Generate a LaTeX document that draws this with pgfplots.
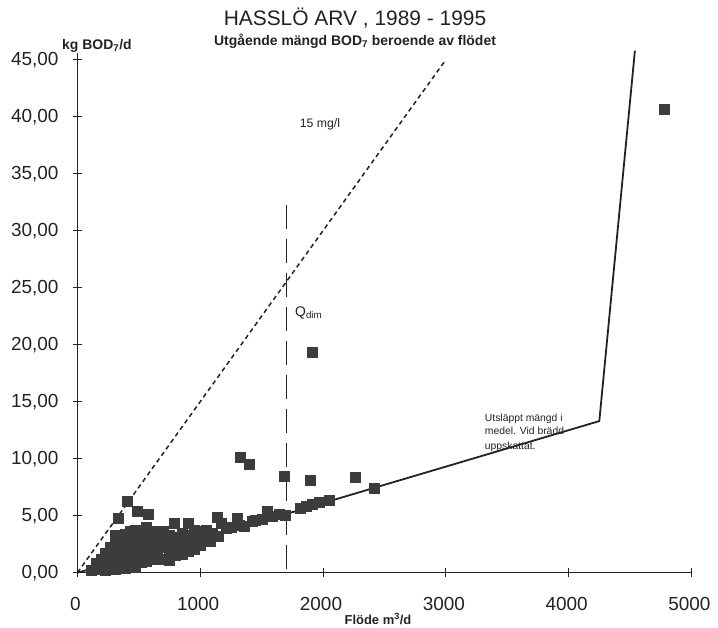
\documentclass[border=0pt]{standalone}
\usepackage{pgfplots}
\pgfplotsset{compat=1.18}
\usepackage{fontspec}
\setmainfont{Liberation Sans}
\definecolor{ink}{HTML}{222222}
\definecolor{mark}{HTML}{3C3C3C}

\begin{document}
\begin{tikzpicture}
\path[use as bounding box] (-77.4bp,-55.3bp) rectangle (640.6bp,572.7bp);
\begin{axis}[
  at={(0,0)}, anchor=south west,
  scale only axis, width=614bp, height=519.8bp,
  xmin=0, xmax=5000, ymin=0, ymax=45.6,
  axis lines*=left, clip=false,
  axis line style={ink, line width=1.4bp},
  xtick={0,1000,...,5000}, ytick={0,5,...,45},
  tick align=center, major tick length=9bp,
  tick style={ink, line width=1bp},
  /pgf/number format/assume math mode=true,
  ticklabel style={font=\fontsize{19}{22}\selectfont, text=ink},
  xticklabel style={yshift=-17bp, xshift=-2bp, /pgf/number format/1000 sep={}},
  yticklabel style={xshift=-11bp, /pgf/number format/.cd, fixed, fixed zerofill, precision=2, use comma},
]
% 15 mg/l
\addplot[ink, line width=1.5bp, dash pattern=on 4.5bp off 3.5bp] coordinates {(0,0) (3000,45)};
% Qdim
\addplot[ink, line width=1.3bp, dash pattern=on 24bp off 10bp] coordinates {(1700,32.3) (1700,-0.5)};
% utslappt mangd
\addplot[ink, line width=1.8bp] coordinates {(0,0) (1700,5.15) (4250,13.3) (4540,45.8)};

\addplot[only marks, mark=square*, mark size=5bp, mark options={draw=mark, fill=mark}] coordinates {
(4775,40.7) (1910,19.3) (1325,10.1) (1398,9.5) (1680,8.5) (1895,8.1) (2265,8.35) (2420,7.45)
(405,6.25) (329,4.75) (490,5.4) (575,5.15) (790,4.3) (905,4.3) (1140,4.85) (1305,4.8)
(1420,4.5) (1545,5.4) (1640,5.1) (1815,5.7) (1865,5.85) (1915,6.0) (1965,6.2) (2050,6.4)
(1050,3.7) (1100,3.5) (1175,4.35) (1210,3.9) (1255,4.0) (1315,4.2) (1355,4.1) (1450,4.6)
(1505,4.7) (1590,5.0) (1690,5.05) (1080,2.8) (1150,3.2)
(110,0.2) (150,0.3) (150,0.8) (190,0.4) (190,1.2)
(230,0.2) (230,0.9) (230,1.7) (270,0.5) (270,1.3) (270,2.2)
(310,0.3) (310,1.0) (310,1.8) (310,2.7) (310,3.3)
(350,0.6) (350,1.5) (350,2.4) (350,3.2)
(390,0.4) (390,1.1) (390,2.0) (390,2.9) (390,3.4)
(430,0.8) (430,1.6) (430,2.5) (430,3.6)
(470,0.5) (470,1.3) (470,2.2) (470,3.1) (470,3.7)
(520,0.9) (520,1.8) (520,2.7) (520,3.5)
(560,1.0) (560,1.7) (560,2.4) (560,3.3) (560,4.0)
(610,1.2) (610,2.0) (610,2.9) (610,3.6)
(650,1.6) (650,2.6) (650,3.3)
(700,1.2) (700,2.2) (700,3.0) (700,3.6)
(750,1.1) (750,1.9) (750,2.7) (750,3.3)
(800,1.5) (800,2.4) (800,3.1)
(850,1.6) (850,2.2) (850,3.0) (850,3.5)
(900,1.9) (900,2.7) (900,3.3)
(950,2.1) (950,3.0) (950,3.7)
(1000,2.4) (1000,3.2) (1040,2.9) (1040,3.6)
};

\node[font=\fontsize{12.3}{14}\selectfont, text=ink] at (axis cs:1975,39.3) {15 mg/l};
\node[font=\fontsize{14}{16}\selectfont, text=ink, anchor=base west] at (axis cs:1745,22.45) {Q\textsubscript{dim}};
\node[font=\fontsize{10.4}{12}\selectfont, text=ink, anchor=base west] at (axis cs:3290,13.26) {Utsläppt mängd i};
\node[font=\fontsize{10.4}{12}\selectfont, text=ink, anchor=base west] at (axis cs:3290,12.08) {medel. Vid brädd};
\node[font=\fontsize{10.4}{12}\selectfont, text=ink, anchor=base west] at (axis cs:3290,10.81) {uppskattat.};
\end{axis}
\node[font=\fontsize{21}{24}\selectfont, text=ink] at (277.6bp,554.7bp) {HASSLÖ ARV , 1989 - 1995};
\node[font=\bfseries\fontsize{14}{16}\selectfont, text=ink] at (277.6bp,531.7bp) {Utgående mängd BOD\textsubscript{7} beroende av flödet};
\node[font=\bfseries\fontsize{14}{16}\selectfont, text=ink, anchor=west, inner sep=0pt] at (-15.4bp,526.7bp) {kg BOD\textsubscript{7}/d};
\node[font=\bfseries\fontsize{13}{15}\selectfont, text=ink] at (300.6bp,-46.3bp) {Flöde m\textsuperscript{3}/d};
\end{tikzpicture}
\end{document}
